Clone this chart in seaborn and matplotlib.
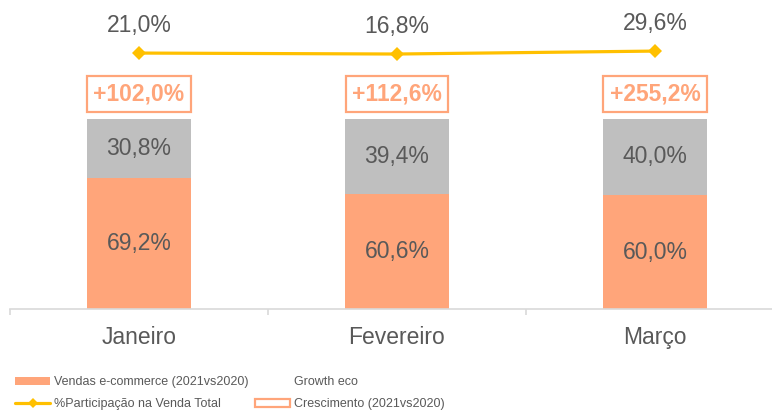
import matplotlib
matplotlib.use("Agg")
import matplotlib.pyplot as plt
import seaborn as sns
from matplotlib.patches import Patch
from matplotlib.lines import Line2D

# Dados
meses = ["Janeiro", "Fevereiro", "Março"]
vendas_ecommerce = [69.2, 60.6, 60.0]
outros = [30.8, 39.4, 40.0]
participacao = [21.0, 16.8, 29.6]
crescimento = [102.0, 112.6, 255.2]

# Cores
cor_laranja = '#FFA57A'
cor_cinza = '#BFBFBF'
cor_linha = '#FFC000'
cor_texto = '#595959'
cor_eixo = '#D9D9D9'

sns.set_style("white")
plt.rcParams['font.family'] = ['Liberation Sans', 'DejaVu Sans']


def fmt(v, sinal=False):
    s = f"{v:+.1f}" if sinal else f"{v:.1f}"
    return s.replace('.', ',') + '%'


fig = plt.figure(figsize=(7.72, 4.12), dpi=100)
ax = fig.add_axes([10 / 772, 103 / 412, 762 / 772, 304 / 412])

totais = [a + b for a, b in zip(vendas_ecommerce, outros)]
sns.barplot(x=meses, y=totais, color=cor_cinza, width=0.4, saturation=1,
            linewidth=0, ax=ax)
sns.barplot(x=meses, y=vendas_ecommerce, color=cor_laranja, width=0.4,
            saturation=1, linewidth=0, ax=ax)

ax.set_xlim(-0.5, -0.5 + 762 / 258)
ax.set_ylim(0, 160)

# Rotulos dentro das barras
for i, (a, b) in enumerate(zip(vendas_ecommerce, outros)):
    ax.text(i, a / 2, fmt(a), ha='center', va='center', fontsize=16.5, color=cor_texto)
    ax.text(i, a + b / 2, fmt(b), ha='center', va='center', fontsize=16.5, color=cor_texto)
    # Crescimento em caixa
    ax.annotate(fmt(crescimento[i], sinal=True), xy=(i, a + b), xytext=(0, 18),
                textcoords='offset points', ha='center', va='center',
                fontsize=16.5, fontweight='bold', color=cor_laranja,
                bbox=dict(boxstyle='square,pad=0.28', facecolor='white',
                          edgecolor=cor_laranja, linewidth=1.6))

# Eixos
for lado in ['top', 'right', 'left']:
    ax.spines[lado].set_visible(False)
ax.spines['bottom'].set_color(cor_eixo)
ax.spines['bottom'].set_linewidth(1.2)
ax.set_yticks([])
ax.set_xlabel('')
ax.set_ylabel('')
ax.tick_params(axis='x', which='major', length=0, pad=12, labelsize=16.5,
               labelcolor=cor_texto)
ax.set_xticks([-0.5, 0.5, 1.5, 2.5], minor=True)
ax.tick_params(axis='x', which='minor', bottom=True, direction='out', length=4,
               width=1.2, color=cor_eixo)

# Linha de participacao (eixo secundario)
ax2 = ax.twinx()
sns.lineplot(x=meses, y=participacao, ax=ax2, color=cor_linha, linewidth=2.3,
             marker='D', markersize=7, markeredgewidth=0, sort=False)
ax2.set_ylim(-1092, 230)
ax2.set_yticks([])
ax2.set_ylabel('')
for lado in ['top', 'right', 'left', 'bottom']:
    ax2.spines[lado].set_visible(False)
for i, v in enumerate(participacao):
    ax2.annotate(fmt(v), xy=(i, v), xytext=(0, 20), textcoords='offset points',
                 ha='center', va='center', fontsize=16.5, color=cor_texto)
ax.set_xlim(-0.5, -0.5 + 762 / 258)

# Legenda
handles = [
    Patch(facecolor=cor_laranja, edgecolor='none'),
    Line2D([], [], color=cor_linha, linewidth=2.3, marker='D', markersize=5,
           markeredgewidth=0),
    Patch(facecolor='none', edgecolor='none'),
    Patch(facecolor='white', edgecolor=cor_laranja, linewidth=1.6),
]
labels = ["Vendas e-commerce (2021vs2020)", "%Participação na Venda Total",
          "Growth eco", "Crescimento (2021vs2020)"]
fig.legend(handles, labels, ncol=2, loc='lower left',
           bbox_to_anchor=(15 / 772, 2 / 412), frameon=False, fontsize=9,
           labelcolor=cor_texto, handlelength=2.8, handleheight=0.6,
           handletextpad=0.3, columnspacing=0.55, labelspacing=0.8,
           borderpad=0, borderaxespad=0)

fig.savefig("out.png", dpi=100)
